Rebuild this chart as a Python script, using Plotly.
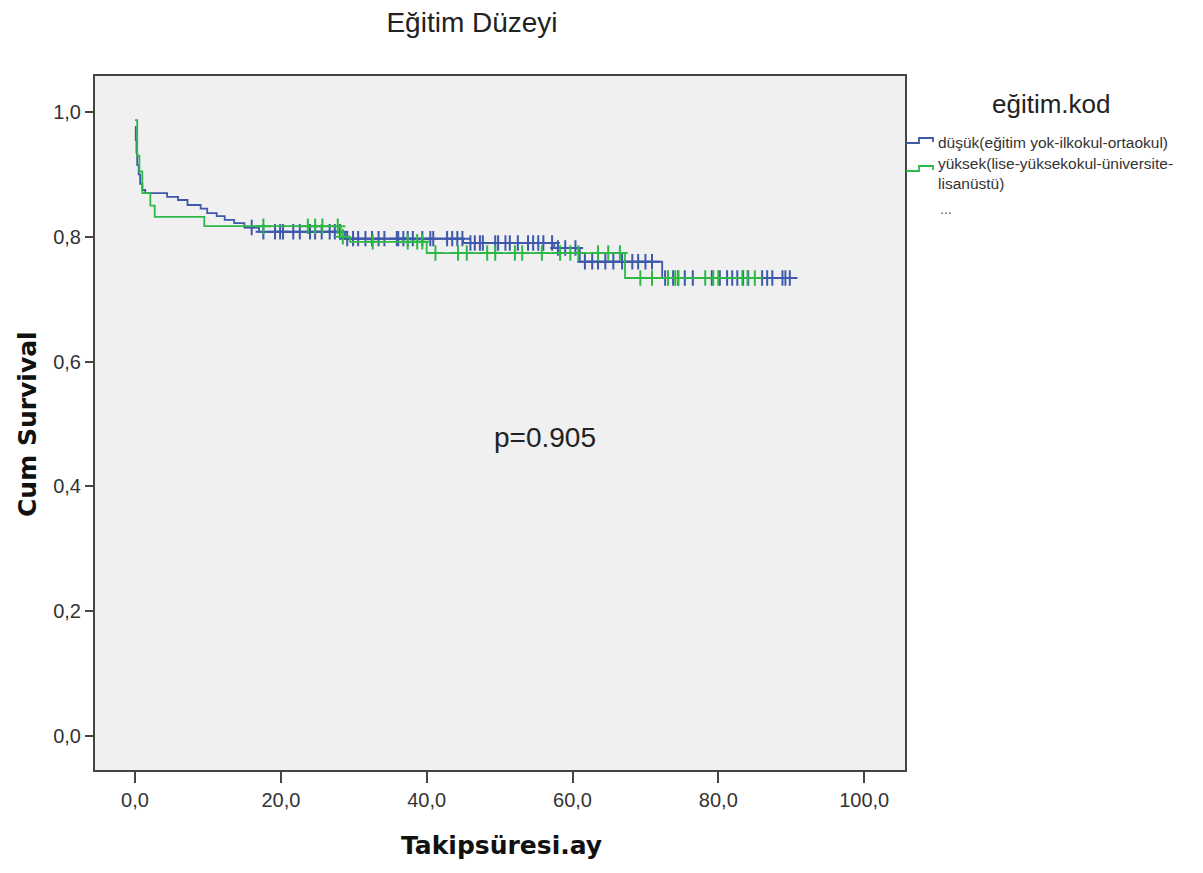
import numpy as np
import plotly.graph_objects as go

# ---------------- data ----------------
series_names = ["düşük(eğitim yok-ilkokul-ortaokul)",
                "yüksek(lise-yüksekokul-üniversite-<br>lisanüstü)"]

# step function (event times, survival after event)
low_times = [0, 0.1, 0.2, 0.3, 0.5, 0.7, 1.0, 1.4, 4.4, 5.9, 7.2, 9.0, 9.9, 11.2,
             12.3, 13.6, 15.0, 17.0, 28.8, 45.0, 57.5, 61.0, 72.3]
low_surv = [0.976, 0.955, 0.935, 0.915, 0.900, 0.885, 0.875, 0.870, 0.864, 0.859,
            0.851, 0.845, 0.838, 0.833, 0.827, 0.822, 0.815, 0.808, 0.797, 0.790,
            0.782, 0.760, 0.734]
low_end = 89.8

high_times = [0, 0.3, 0.6, 1.0, 2.1, 2.7, 9.5, 28.2, 29.5, 40.0, 67.2]
high_surv = [0.987, 0.930, 0.905, 0.870, 0.850, 0.832, 0.817, 0.800, 0.792, 0.774, 0.734]
high_end = 85.0

# censored observations
low_censor = [16.0, 17.6, 19.2, 19.9, 20.3, 21.7, 22.6, 24.0, 24.7, 25.6, 26.7, 27.4,
              28.1, 29.1, 29.9, 30.6, 31.6, 32.5, 33.4, 34.2, 35.9, 36.1, 36.8, 37.4,
              38.1, 39.4, 40.5, 40.9, 42.8, 43.5, 44.2, 44.9, 46.0, 46.6, 47.3, 47.7,
              49.4, 49.8, 50.8, 51.4, 52.5, 53.9, 54.6, 55.3, 56.0, 57.2, 58.0, 59.0,
              60.4, 61.7, 62.7, 63.5, 64.5, 65.6, 66.8, 68.2, 69.0, 70.0, 70.9, 72.7,
              73.8, 74.5, 75.4, 76.5, 79.1, 80.2, 81.2, 81.9, 82.6, 83.4, 84.1, 86.0,
              86.7, 87.4, 88.8, 89.2, 89.8]
high_censor = [17.6, 23.7, 24.7, 25.7, 27.8, 28.5, 32.6, 37.4, 38.7, 39.4, 41.2, 44.3,
               45.5, 48.3, 49.4, 52.1, 53.1, 55.8, 58.3, 59.7, 60.8, 63.5, 64.9, 66.5,
               69.3, 70.9, 73.1, 74.5, 74.1, 78.2, 79.3, 80.0, 83.3, 84.0, 85.0]

colors = ["#3E58AC", "#2EB848"]

x_ticks = [0, 20, 40, 60, 80, 100]
y_ticks = [0, 0.2, 0.4, 0.6, 0.8, 1.0]


def surv_at(times, surv, t):
    idx = np.searchsorted(np.array(times), np.array(t), side="right") - 1
    return np.array(surv)[np.clip(idx, 0, len(surv) - 1)]


fig = go.Figure()

for times, surv, end, cens, col in [
    (low_times, low_surv, low_end, low_censor, colors[0]),
    (high_times, high_surv, high_end, high_censor, colors[1]),
]:
    xs = list(times) + [end]
    ys = list(surv) + [surv[-1]]
    fig.add_trace(go.Scatter(x=xs, y=ys, mode="lines", line=dict(color=col, width=1.8, shape="hv"),
                             showlegend=False, hoverinfo="skip"))
    fig.add_trace(go.Scatter(x=cens, y=surv_at(times, surv, cens), mode="markers",
                             marker=dict(symbol="cross-thin", size=11,
                                         line=dict(color=col, width=2)),
                             showlegend=False, hoverinfo="skip"))

# p-value annotation
fig.add_annotation(x=56.2, y=0.479, text="p=0.905", showarrow=False,
                   font=dict(size=28, color="#222"), xref="x", yref="y")

# ---------- positions helpers (paper coords from pixels) ----------
L, R, T, B = 95, 905, 76, 770
def px(xp):
    return (xp - L) / (R - L)
def py(yp):
    return (B - yp) / (B - T)

# axis titles
fig.add_annotation(x=px(501), y=py(845), xref="paper", yref="paper", text="<b>Takipsüresi.ay</b>",
                   showarrow=False, font=dict(size=25, family="DejaVu Sans", color="#111"),
                   xanchor="center", yanchor="middle")
fig.add_annotation(x=px(27), y=py(424), xref="paper", yref="paper", text="<b>Cum Survival</b>",
                   showarrow=False, textangle=-90, font=dict(size=25, family="DejaVu Sans", color="#111"),
                   xanchor="center", yanchor="middle")

# manual legend
fig.add_annotation(x=px(1051), y=py(104), xref="paper", yref="paper", text="eğitim.kod",
                   showarrow=False, font=dict(size=26, color="#222"), xanchor="center", yanchor="middle")

for i, (ytop, col) in enumerate([(138, colors[0]), (166, colors[1])]):
    path = (f"M {px(906)},{py(ytop+5)} L {px(919)},{py(ytop+5)} L {px(919)},{py(ytop)} "
            f"L {px(933)},{py(ytop)} L {px(933)},{py(ytop+4)}")
    fig.add_shape(type="path", path=path, xref="paper", yref="paper",
                  line=dict(color=col, width=1.8))

fig.add_annotation(x=px(936), y=py(142), xref="paper", yref="paper", text=series_names[0],
                   showarrow=False, font=dict(size=15.5, color="#333"), xanchor="left", yanchor="middle")
fig.add_annotation(x=px(936), y=py(153), xref="paper", yref="paper", text=series_names[1],
                   showarrow=False, font=dict(size=15.5, color="#333"), xanchor="left", yanchor="top",
                   align="left")
fig.add_annotation(x=px(938), y=py(209), xref="paper", yref="paper", text="...",
                   showarrow=False, font=dict(size=14, color="#555"), xanchor="left", yanchor="middle")

fig.update_layout(
    width=1203, height=873,
    margin=dict(l=95, r=298, t=76, b=103),
    paper_bgcolor="white", plot_bgcolor="#f0f0f0",
    separators=",.",
    font=dict(family="Liberation Sans, Arial, sans-serif", color="#222"),
    title=dict(text="Eğitim Düzeyi", x=472 / 1203, xanchor="center", y=1 - 22 / 873, yanchor="middle",
               font=dict(size=28, color="#222")),
    showlegend=False,
)
fig.update_xaxes(range=[-5.49, 105.6], tickvals=x_ticks, tickformat=".1f",
                 ticks="outside", ticklen=11, tickwidth=1.5, tickcolor="#444",
                 showline=True, linecolor="#444", linewidth=2, mirror=True,
                 showgrid=False, zeroline=False,
                 tickfont=dict(size=20, color="#333"))
fig.update_yaxes(range=[-0.0545, 1.0577], tickvals=y_ticks, tickformat=".1f",
                 ticks="outside", ticklen=8, tickwidth=1.5, tickcolor="#444",
                 showline=True, linecolor="#444", linewidth=2, mirror=True,
                 showgrid=False, zeroline=False,
                 tickfont=dict(size=20, color="#333"))

fig.write_html("out.html")
